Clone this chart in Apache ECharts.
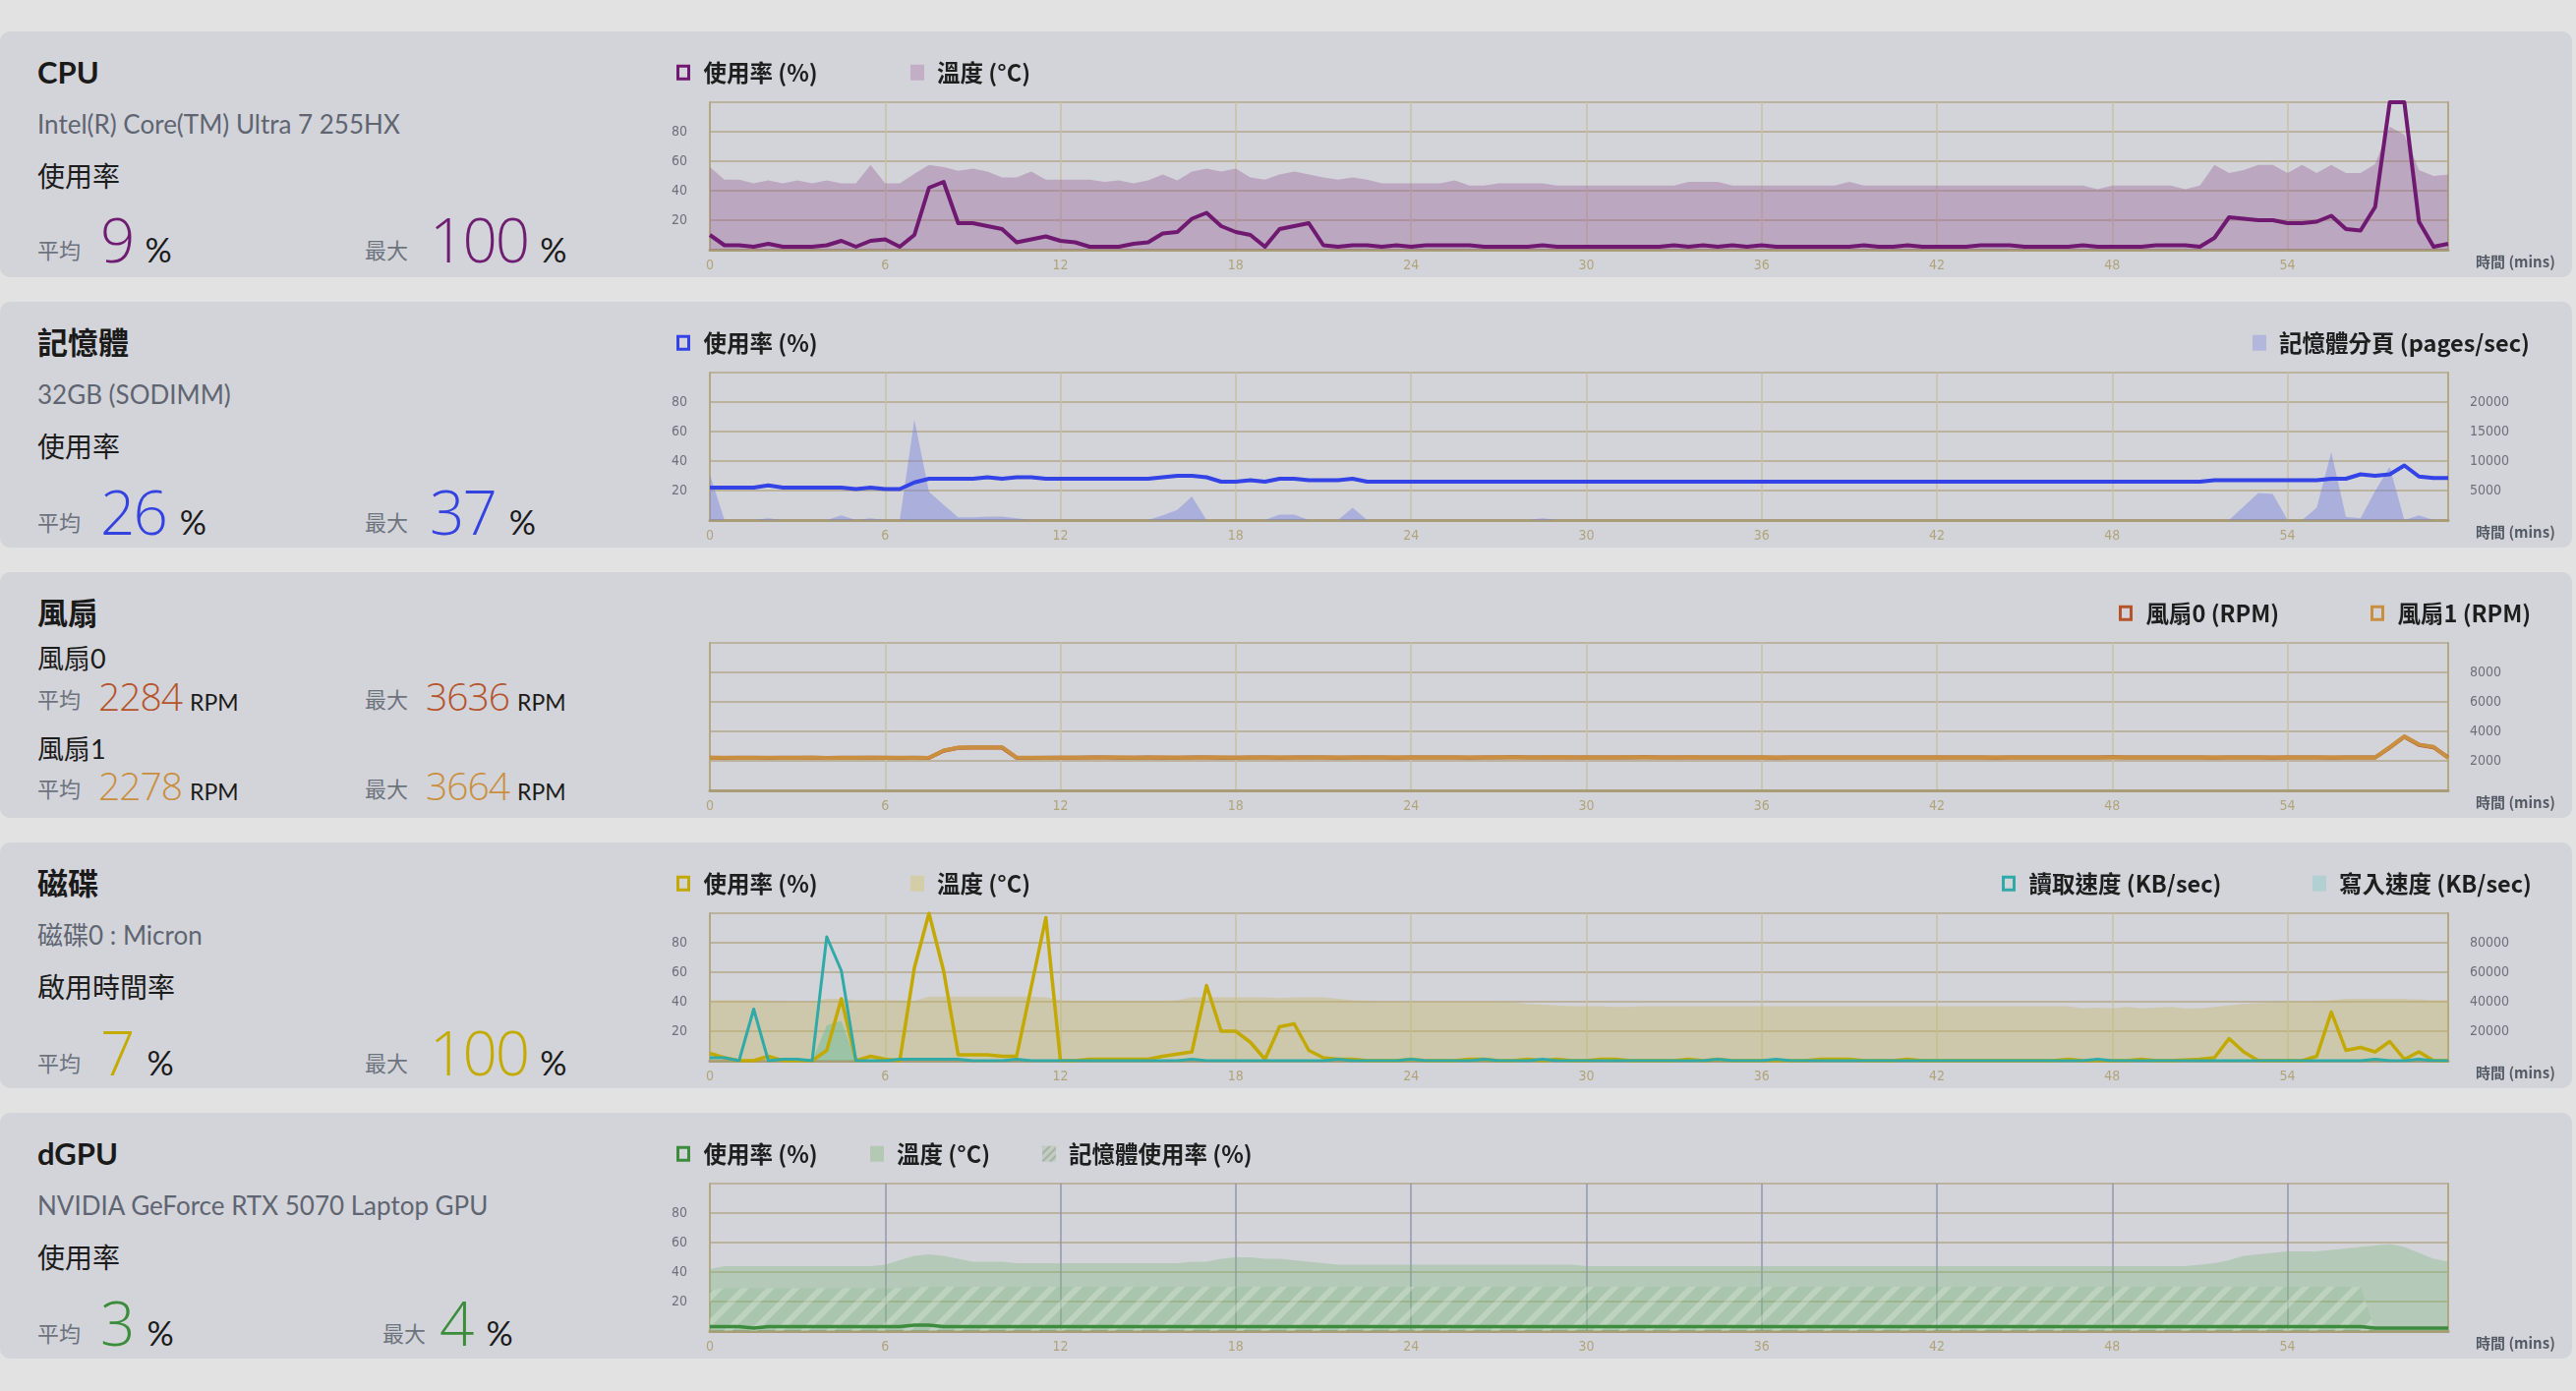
<!DOCTYPE html>
<html><head><meta charset="utf-8">
<script src="https://cdn.jsdelivr.net/npm/echarts@6/dist/echarts.min.js"></script>
<style>
html,body{margin:0;padding:0;}
body{width:2620px;height:1415px;background:#e2e2e2;position:relative;overflow:hidden;font-family:Lato,'Noto Sans CJK TC',sans-serif;}
.panel{position:absolute;left:0;width:2616px;height:250px;background:#d3d4d9;border-radius:10px;}
.chart{position:absolute;left:0;top:0;width:2616px;height:250px;}
.t{position:absolute;line-height:1;white-space:nowrap;}
.title{left:38px;top:26px;font-size:31px;font-weight:bold;color:#1a1a1a;}
.sub{left:38px;top:81px;font-size:26px;color:#5f6571;}
.lab{left:38px;top:133px;font-size:28px;color:#1c1c1c;}
.row{position:absolute;display:flex;align-items:baseline;line-height:1;white-space:nowrap;}
.k{font-size:22px;color:#6d737d;position:relative;top:-4px;}
.n{font-family:'Open Sans',Lato,sans-serif;font-weight:300;font-size:62px;letter-spacing:-2px;}
.u{font-size:34px;color:#1b1b1b;}
.fn{font-family:'Open Sans',Lato,sans-serif;font-weight:300;font-size:39px;letter-spacing:-1px;}
.fu{font-size:23px;color:#1b1b1b;}
.fl{left:38px;font-size:27px;color:#1b1b1b;}
</style></head>
<body>
<div class="panel" style="top:32px">
  <div class="t title">CPU</div>
  <div class="t sub">Intel(R) Core(TM) Ultra 7 255HX</div>
  <div class="t lab">使用率</div>
  <div class="row" style="left:38px;top:180px"><span class="k">平均</span><span class="n" style="color:#6f1d70;margin-left:20px">9</span><span class="u" style="margin-left:12px">%</span></div>
  <div class="row" style="left:371px;top:180px"><span class="k">最大</span><span class="n" style="color:#6f1d70;margin-left:22px">100</span><span class="u" style="margin-left:12px">%</span></div>
  <div class="chart" id="c0"></div>
</div>
<div class="panel" style="top:307px">
  <div class="t title">記憶體</div>
  <div class="t sub">32GB (SODIMM)</div>
  <div class="t lab">使用率</div>
  <div class="row" style="left:38px;top:182px"><span class="k">平均</span><span class="n" style="color:#3443e0;margin-left:20px">26</span><span class="u" style="margin-left:14px">%</span></div>
  <div class="row" style="left:371px;top:182px"><span class="k">最大</span><span class="n" style="color:#3443e0;margin-left:22px">37</span><span class="u" style="margin-left:14px">%</span></div>
  <div class="chart" id="c1"></div>
</div>
<div class="panel" style="top:582px">
  <div class="t title">風扇</div>
  <div class="t fl" style="top:74px">風扇0</div>
  <div class="row" style="left:38px;top:106px"><span class="k" style="top:-3px">平均</span><span class="fn" style="color:#b5532a;margin-left:18px">2284</span><span class="fu" style="margin-left:8px">RPM</span></div>
  <div class="row" style="left:371px;top:106px"><span class="k" style="top:-3px">最大</span><span class="fn" style="color:#b5532a;margin-left:18px">3636</span><span class="fu" style="margin-left:8px">RPM</span></div>
  <div class="t fl" style="top:166px">風扇1</div>
  <div class="row" style="left:38px;top:197px"><span class="k" style="top:-3px">平均</span><span class="fn" style="color:#c98f40;margin-left:18px">2278</span><span class="fu" style="margin-left:8px">RPM</span></div>
  <div class="row" style="left:371px;top:197px"><span class="k" style="top:-3px">最大</span><span class="fn" style="color:#c98f40;margin-left:18px">3664</span><span class="fu" style="margin-left:8px">RPM</span></div>
  <div class="chart" id="c2"></div>
</div>
<div class="panel" style="top:857px">
  <div class="t title">磁碟</div>
  <div class="t sub">磁碟0 : Micron</div>
  <div class="t lab">啟用時間率</div>
  <div class="row" style="left:38px;top:182px"><span class="k">平均</span><span class="n" style="color:#c4ab00;margin-left:20px">7</span><span class="u" style="margin-left:14px">%</span></div>
  <div class="row" style="left:371px;top:182px"><span class="k">最大</span><span class="n" style="color:#c4ab00;margin-left:22px">100</span><span class="u" style="margin-left:12px">%</span></div>
  <div class="chart" id="c3"></div>
</div>
<div class="panel" style="top:1132px">
  <div class="t title">dGPU</div>
  <div class="t sub">NVIDIA GeForce RTX 5070 Laptop GPU</div>
  <div class="t lab">使用率</div>
  <div class="row" style="left:38px;top:182px"><span class="k">平均</span><span class="n" style="color:#3b8c3b;margin-left:20px">3</span><span class="u" style="margin-left:14px">%</span></div>
  <div class="row" style="left:389px;top:182px"><span class="k">最大</span><span class="n" style="color:#3b8c3b;margin-left:14px">4</span><span class="u" style="margin-left:14px">%</span></div>
  <div class="chart" id="c4"></div>
</div>
<script>
// ---------- DATA (one sample every 0.5 min) ----------
const minutes = [
 0,0.5,1,1.5,2,2.5,3,3.5,4,4.5, 5,5.5,6,6.5,7,7.5,8,8.5,9,9.5,
 10,10.5,11,11.5,12,12.5,13,13.5,14,14.5, 15,15.5,16,16.5,17,17.5,18,18.5,19,19.5,
 20,20.5,21,21.5,22,22.5,23,23.5,24,24.5, 25,25.5,26,26.5,27,27.5,28,28.5,29,29.5,
 30,30.5,31,31.5,32,32.5,33,33.5,34,34.5, 35,35.5,36,36.5,37,37.5,38,38.5,39,39.5,
 40,40.5,41,41.5,42,42.5,43,43.5,44,44.5, 45,45.5,46,46.5,47,47.5,48,48.5,49,49.5,
 50,50.5,51,51.5,52,52.5,53,53.5,54,54.5, 55,55.5,56,56.5,57,57.5,58,58.5,59,59.5];

const cpuUsage = [
 10,3,3,2,4,2,2,2,3,6,  2,6,7,2,10,42,46,18,18,16,
 14,5,7,9,6,5,2,2,2,4,  5,11,12,21,25,16,12,10,2,14,
 16,18,3,2,3,3,2,3,2,3,  3,3,3,2,2,2,2,3,2,2,
 2,2,2,2,2,2,3,2,3,2,  3,2,3,2,2,2,2,2,2,3,
 2,2,3,2,2,2,2,3,3,3,  2,2,2,2,3,2,2,2,2,3,
 3,3,2,8,22,21,20,20,18,18,  19,23,14,13,29,100,100,19,2,4];
const cpuTemp = [
 56,47.5,47.5,45,47,45,47,45,47,45,  45,57.5,45,45,51.5,57.5,56,53.5,55,53,
 49,49,53,47.5,47.5,47.5,47.5,46,47,45,  47,51,47,53,55,53,55,49,47.5,51,
 53,51,49,47.5,49,47.5,45,45,45,45,  45,47,43.5,43.5,45,45,45,45,43.5,43.5,
 43.5,43.5,43.5,43.5,43.5,43.5,43.5,46,46,46,  43.5,43.5,43.5,43.5,43.5,43.5,43.5,43.5,46,43.5,
 43.5,43.5,43.5,43.5,43.5,43.5,43.5,43.5,43.5,43.5,  43.5,43.5,43.5,43.5,43.5,41,43.5,43.5,43.5,43.5,
 43.5,41,43.5,57.5,52,54,57.5,57.5,52,57.5,  52,57.5,52,52,58,83.5,78,54,50,51];

const memUsage = [
 22,22,22,22,23.5,22,22,22,22,22,  21,22,21,21,25.5,28,28,28,28,29,
 28,29,29,28,28,28,28,28,28,28,  28,29,30,30,29,26,26,27,26,28,
 28,27,27,27,28,26,26,26,26,26,  26,26,26,26,26,26,26,26,26,26,
 26,26,26,26,26,26,26,26,26,26,  26,26,26,26,26,26,26,26,26,26,
 26,26,26,26,26,26,26,26,26,26,  26,26,26,26,26,26,26,26,26,26,
 26,26,26,27,27,27,27,27,27,27,  27,28,28,31,30,31,37,29.5,28.5,28.5];
const memPaging = [
 7700,0,0,0,300,0,0,0,0,800,  0,300,0,0,17000,4800,2600,450,450,600,
 600,300,0,0,0,0,0,0,0,0,  0,800,1700,4000,0,0,0,0,0,900,
 900,0,0,0,2100,0,0,0,0,0,  0,0,0,0,0,0,0,300,0,0,
 0,0,0,0,0,0,0,0,0,0,  0,0,0,0,0,0,0,0,0,0,
 0,0,0,0,0,0,0,0,0,0,  0,0,0,0,0,0,0,0,0,0,
 0,0,0,0,0,2300,4600,4400,0,0,  2100,11500,550,300,4900,9000,0,800,0,0];

const fan0 = [
 2210,2200,2220,2210,2200,2210,2220,2210,2200,2210,  2210,2220,2210,2200,2210,2200,2680,2880,2900,2900,
 2900,2210,2200,2210,2220,2210,2230,2240,2220,2210,  2230,2220,2210,2230,2240,2220,2210,2230,2240,2220,
 2230,2240,2230,2220,2230,2240,2230,2220,2240,2230,  2240,2230,2220,2230,2240,2250,2240,2230,2240,2230,
 2230,2240,2230,2240,2250,2240,2230,2240,2230,2240,  2230,2240,2230,2220,2230,2240,2230,2240,2230,2240,
 2240,2230,2240,2230,2240,2230,2240,2230,2220,2230,  2230,2240,2230,2240,2230,2240,2250,2240,2230,2240,
 2230,2240,2230,2220,2230,2240,2230,2220,2230,2240,  2230,2220,2230,2240,2230,2900,3636,3080,2920,2220];
const fan1 = [
 2200,2210,2200,2200,2210,2200,2200,2210,2200,2200,  2200,2210,2200,2210,2200,2210,2700,2900,2920,2920,
 2920,2220,2210,2200,2210,2220,2220,2230,2230,2220,  2220,2230,2220,2220,2230,2230,2220,2220,2230,2230,
 2220,2230,2240,2230,2220,2230,2240,2230,2230,2240,  2230,2240,2230,2240,2250,2240,2230,2240,2250,2240,
 2240,2230,2240,2250,2240,2230,2240,2250,2240,2230,  2240,2230,2240,2230,2240,2230,2240,2230,2240,2230,
 2230,2240,2230,2240,2230,2240,2230,2240,2230,2240,  2240,2230,2240,2230,2240,2230,2240,2230,2240,2230,
 2240,2230,2240,2230,2240,2230,2240,2230,2240,2230,  2240,2230,2240,2230,2220,2930,3664,3110,2950,2200];

const diskUsage = [
 5,2,0,0,3,0,0,0,7,42,  0,3,1,0,63,100,61,4,4,4,
 3,3,50,97,0,0,1,1,1,1,  1,3,4.5,6,51,20,20,12.5,1,23,
 25,7,2,1,1,0,0,0,1,0,  0,0,1,1,0,0,1,0,1,0,
 0,1,1,0,0,0,0,1,0,1,  0,0,0,0,0,0,1,1,1,0,
 0,0,1,0,0,0,0,0,0,0,  0,0,0,1,0,0,0,0,1,0,
 0,0.5,1,2,15,6,0,0,0,0,  3,33,7,9,6,13,1,6,0,0];
const diskTemp = [
 41,41,41,41,40.5,40,40,40,42,42,  41,41,41,41,40.5,43.5,43.5,43.5,43.5,43.5,
 43.5,43.5,43.5,43,41,40.5,40.5,40.5,40.5,40.5,  40.5,40.5,41,43,43,43,43,43,43,42.5,
 43,43,43,42,41,40.5,40,40,40,40,  40,40,40,40,40,39.5,38.5,38,37.5,37,
 37,37,36.5,36.5,37,37,37,37,37,37,  37,37,37,37,37,37,37,37,37,37,
 37,37,37,37,37,37,37,37,37,37,  37,37,37,37,35.5,36,35.5,36.5,35.5,36,
 36.5,35.5,35.5,36.5,37.5,38.5,39,39.5,40,40,  40,41,42,42,42,42,42,41.5,41,41];
const diskRead = [
 2000,2000,0,35000,0,1000,1000,0,84000,61000,  0,0,0,1000,1000,1000,1000,1000,0,0,
 0,1000,0,0,0,0,0,0,0,0,  0,0,0,1000,0,0,0,0,0,0,
 0,0,0,1000,0,0,0,0,1000,0,  0,0,0,1000,0,0,0,1000,0,0,
 0,0,0,0,0,0,0,0,0,1000,  0,0,0,1000,0,0,0,0,0,0,
 0,0,0,0,0,0,0,0,0,0,  0,0,0,0,0,1000,0,0,0,0,
 0,0,0,0,0,0,0,0,0,0,  0,0,0,0,1000,0,0,1000,0,0];
const diskWrite = [
 0,0,0,0,0,0,0,0,24000,27000,  0,0,0,0,0,0,0,0,0,0,
 0,0,0,0,0,0,0,0,0,0,  0,0,0,0,0,0,0,0,0,0,
 0,0,0,0,0,0,0,0,0,0,  0,0,0,0,0,0,0,0,0,0,
 0,0,0,0,0,0,0,0,0,0,  0,0,0,0,0,0,0,0,0,0,
 0,0,0,0,0,0,0,0,0,0,  0,0,0,0,0,0,0,0,0,0,
 0,0,0,0,0,0,0,0,0,0,  0,0,0,0,0,0,0,0,0,0];

const gpuUsage = [
 3,3,3,2,3,3,3,3,3,3,  3,3,3,3,4,4,3,3,3,3,
 3,3,3,3,3,3,3,3,3,3,  3,3,3,3,3,3,3,3,3,3,
 3,3,3,3,3,3,3,3,3,3,  3,3,3,3,3,3,3,3,3,3,
 3,3,3,3,3,3,3,3,3,3,  3,3,3,3,3,3,3,3,3,3,
 3,3,3,3,3,3,3,3,3,3,  3,3,3,3,3,3,3,3,3,3,
 3,3,3,3,3,3,3,3,3,3,  3,3,3,3,2,2,2,2,2,2];
const gpuTemp = [
 42,44,44,44,44,44,44,44,44,44,  44,44,45,48,51,52,51,49,47,47,
 47,46,46,46,46,46,46,46,46,46,  46,46,46,47,47,49,50,50,49,49,
 48,47,46,45,45,45,45,45,45,45,  45,45,45,45,45,45,45,45,45,45,
 44,44,44,44,44,44,44,44,44,44,  44,44,44,44,44,44,44,44,44,44,
 44,44,44,44,44,44,44,44,44,44,  44,44,44,44,44,44,44,44,44,44,
 44,44,45,46,48,51,52,53,54,54,  54,55,56,57,58,59,57,53,49,47];
const gpuMem = [
 28,29,29,29,29,29,29,29,29,29,  29,29,29,29,30,30,30,30,30,30,
 30,30,30,30,30,30,30,30,30,30,  30,30,30,30,30,30,30,30,30,30,
 30,30,30,30,30,30,30,30,30,30,  30,30,30,30,30,30,30,30,30,30,
 30,30,30,30,30,30,30,30,30,30,  30,30,30,30,30,30,30,30,30,30,
 30,30,30,30,30,30,30,30,30,30,  30,30,30,30,30,30,30,30,30,30,
 30,30,30,30,30,30,30,30,30,30,  30,30,30,30,0,0,0,0,0,0];

// ---------- helpers ----------
const LEGF = "'Noto Sans CJK TC', Lato, sans-serif";
const TICKF = "'Liberation Sans Narrow', 'DejaVu Sans Condensed', Lato, sans-serif";
function pairs(v){ return minutes.map((t,i)=>[t, v[i]]); }
const plain = v => String(v);
function xAxis(vColor){
  return {type:'value', min:0, max:59.5, interval:6,
    axisLine:{show:true, onZero:false, lineStyle:{color:'#a99d78', width:3}},
    axisTick:{show:false},
    axisLabel:{color:'#b1a47c', fontSize:14, fontFamily:TICKF, margin:9, showMaxLabel:false, formatter:plain},
    splitLine:{show:true, lineStyle:{color:vColor||'#c9c2a7', width:1.5}},
    name:'時間 (mins)', nameLocation:'end', nameGap:28,
    nameTextStyle:{color:'#555b66', fontSize:15, fontWeight:'bold', fontFamily:LEGF, verticalAlign:'top', padding:[5,0,0,0]}};
}
function yLeft(show){
  return {type:'value', min:0, max:100, interval:20, position:'left',
    axisLine:{show:true, lineStyle:{color:'#b3a880', width:2}}, axisTick:{show:false},
    axisLabel:{show:show, color:'#6c707a', fontSize:14, fontFamily:TICKF, margin:23, showMinLabel:false, showMaxLabel:false, formatter:plain},
    splitLine:{show:true, lineStyle:{color:'#bbb39d', width:2}}};
}
function yRight(max, interval, show){
  return {type:'value', min:0, max:max, interval:interval, position:'right',
    axisLine:{show:true, lineStyle:{color:'#b3a880', width:2}}, axisTick:{show:false},
    axisLabel:{show:show, color:'#6c707a', fontSize:14, fontFamily:TICKF, margin:22, showMinLabel:false, showMaxLabel:false, formatter:plain},
    splitLine:{show:false}};
}
const hollow = c => ({color:'rgba(0,0,0,0)', borderColor:c, borderWidth:3});
const solid = c => ({color:c, borderWidth:0});
function leg(left, name, style, isSolid){
  return {left:left, top:25, itemWidth:isSolid?14:11, itemHeight:isSolid?16:13, selectedMode:false,
    data:[{name:name, icon:'rect', itemStyle:style}],
    textStyle:{color:'#1e1e1e', fontSize:23.5, fontWeight:'bold', fontFamily:LEGF, padding:[0,0,0,isSolid?8:10]}};
}
function line(name, v, color, width, yIdx, z){
  return {type:'line', name:name, data:pairs(v), yAxisIndex:yIdx||0, symbol:'none', showSymbol:false,
    lineStyle:{color:color, width:width, join:'round'}, itemStyle:{color:color}, z:z||4, animation:false};
}
function area(name, v, color, fill, yIdx, z){
  return {type:'line', name:name, data:pairs(v), yAxisIndex:yIdx||0, symbol:'none', showSymbol:false,
    lineStyle:{width:0}, itemStyle:{color:color}, areaStyle:{color:fill, opacity:1}, z:z||2, animation:false};
}
const GRID = {left:722, right:126, top:72, bottom:28};

// hatch pattern for GPU memory (chart fill)
const pc = document.createElement('canvas'); pc.width = 26; pc.height = 26;
const g = pc.getContext('2d');
g.fillStyle = 'rgba(120,175,120,0.18)'; g.fillRect(0,0,26,26);
g.strokeStyle = 'rgba(232,238,232,0.32)'; g.lineWidth = 6;
g.beginPath(); g.moveTo(-3,29); g.lineTo(29,-3); g.moveTo(-16,16); g.lineTo(16,-16); g.moveTo(10,42); g.lineTo(42,10); g.stroke();
const hatch = {image: pc, repeat: 'repeat'};
// hatch pattern for the legend icon
const lc = document.createElement('canvas'); lc.width = 8; lc.height = 8;
const lg = lc.getContext('2d');
lg.fillStyle = '#c3cdc3'; lg.fillRect(0,0,8,8);
lg.strokeStyle = '#a7b2a7'; lg.lineWidth = 2;
lg.beginPath(); lg.moveTo(-1,9); lg.lineTo(9,-1); lg.moveTo(-5,5); lg.lineTo(5,-5); lg.moveTo(3,13); lg.lineTo(13,3); lg.stroke();
const hatchIcon = {image: lc, repeat: 'repeat'};

// ---------- charts ----------
const cfgs = [
 { id:'c0',
   legend:[leg(683,'使用率 (%)',hollow('#6f1a70')), leg(921,'溫度 (°C)',solid('#c3aec7'),true)],
   yAxis:[yLeft(true), yRight(100,20,false)], x:xAxis(),
   series:[area('溫度 (°C)',cpuTemp,'#c3aec7','rgba(150,95,155,0.38)'),
           line('使用率 (%)',cpuUsage,'#6f1a70',4)] },
 { id:'c1',
   legend:[leg(683,'使用率 (%)',hollow('#3443e6')), leg(2286,'記憶體分頁 (pages/sec)',solid('#b3b7dc'),true)],
   yAxis:[yLeft(true), yRight(25000,5000,true)], x:xAxis(),
   series:[area('記憶體分頁 (pages/sec)',memPaging,'#b3b7dc','rgba(120,130,225,0.45)',1),
           line('使用率 (%)',memUsage,'#3443e6',4)] },
 { id:'c2',
   legend:[leg(2150,'風扇0 (RPM)',hollow('#b5532a')), leg(2406,'風扇1 (RPM)',hollow('#c98f40'))],
   yAxis:[yLeft(false), yRight(10000,2000,true)], x:xAxis(),
   series:[line('風扇0 (RPM)',fan0,'#b5532a',4,1,4), line('風扇1 (RPM)',fan1,'#c98f40',4,1,5)] },
 { id:'c3',
   legend:[leg(683,'使用率 (%)',hollow('#c4a900')), leg(921,'溫度 (°C)',solid('#d3cea8'),true),
           leg(2031,'讀取速度 (KB/sec)',hollow('#30aaa8')), leg(2347,'寫入速度 (KB/sec)',solid('#b2cfd1'),true)],
   yAxis:[yLeft(true), yRight(100000,20000,true)], x:xAxis(),
   series:[area('溫度 (°C)',diskTemp,'#d3cea8','rgba(195,182,100,0.38)'),
           area('寫入速度 (KB/sec)',diskWrite,'#b2cfd1','rgba(110,190,160,0.5)',1,3),
           line('使用率 (%)',diskUsage,'#c4a900',3.5,0,4),
           line('讀取速度 (KB/sec)',diskRead,'#30aaa8',3,1,5)] },
 { id:'c4',
   legend:[leg(683,'使用率 (%)',hollow('#3d8b3d')), leg(880,'溫度 (°C)',solid('#b4c9b4'),true), leg(1055,'記憶體使用率 (%)',{color:hatchIcon, borderWidth:0},true)],
   yAxis:[yLeft(true), yRight(100,20,false)], x:xAxis('#9396ae'),
   series:[area('溫度 (°C)',gpuTemp,'#b4c9b4','rgba(130,185,130,0.38)'),
           area('記憶體使用率 (%)',gpuMem,'#b4c9b4',hatch,0,3),
           line('使用率 (%)',gpuUsage,'#3d8b3d',3.5)] }
];
cfgs.forEach(c => {
  const ch = echarts.init(document.getElementById(c.id), null, {renderer:'canvas'});
  ch.setOption({animation:false, grid:GRID, legend:c.legend, xAxis:c.x, yAxis:c.yAxis, series:c.series});
});
</script>
</body></html>
